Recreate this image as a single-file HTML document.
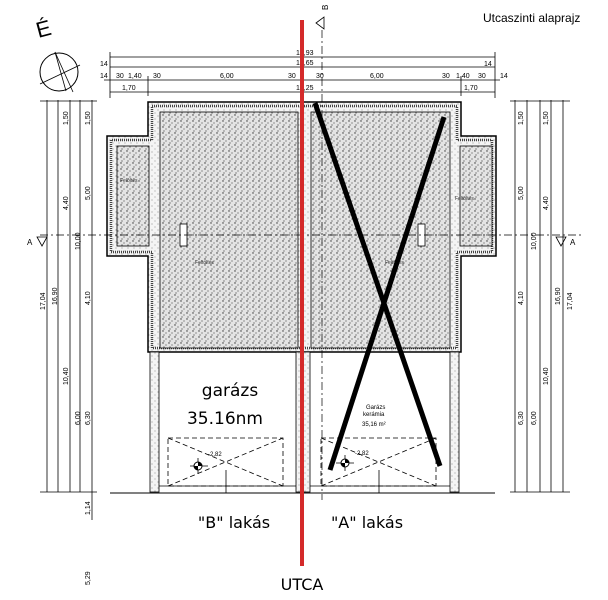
<!DOCTYPE html>
<html><head><meta charset="utf-8"><style>
html,body{margin:0;padding:0;background:#fff}
svg{display:block}
</style></head><body>
<svg width="608" height="600" viewBox="0 0 608 600" xmlns="http://www.w3.org/2000/svg" font-family="Liberation Sans, sans-serif">
<defs>
<pattern id="dots" width="6" height="6" patternUnits="userSpaceOnUse">
<rect width="6" height="6" fill="#e4e4e4"/>
<circle cx="1" cy="1" r="0.7" fill="#333"/><circle cx="4" cy="3" r="0.6" fill="#555"/><circle cx="2" cy="5" r="0.6" fill="#444"/>
</pattern>
<pattern id="dots2" width="6" height="6" patternUnits="userSpaceOnUse">
<rect width="6" height="6" fill="#f4f4f4"/>
<circle cx="2" cy="2" r="0.5" fill="#666"/><circle cx="5" cy="5" r="0.5" fill="#777"/>
</pattern>
</defs>
<rect width="608" height="600" fill="#fff"/>

<text x="483" y="22" font-size="12" fill="#000">Utcaszinti alaprajz</text>
<text x="36" y="36" font-size="22" fill="#000" transform="rotate(-15 45 28)">É</text>
<circle cx="59" cy="72" r="19" fill="none" stroke="#000" stroke-width="1"/>
<line x1="55" y1="52" x2="73" y2="92" stroke="#000" stroke-width="0.8"/>
<line x1="55" y1="52" x2="66" y2="91" stroke="#000" stroke-width="0.8"/>
<line x1="40" y1="84" x2="80" y2="65" stroke="#000" stroke-width="0.8"/>

<text x="322" y="8" font-size="8" transform="rotate(-90 326 6)">B</text>
<polygon points="316,23 324,17 324,29" fill="none" stroke="#000" stroke-width="0.8"/>

<g stroke="#000" stroke-width="0.8">
<line x1="110" y1="57" x2="495" y2="57"/>
<line x1="110" y1="67" x2="495" y2="67"/>
<line x1="104" y1="80" x2="500" y2="80"/>
<line x1="110" y1="92" x2="495" y2="92"/>
<line x1="110" y1="52" x2="110" y2="98"/><line x1="495" y1="52" x2="495" y2="98"/>
<line x1="148" y1="76" x2="148" y2="96"/><line x1="461" y1="76" x2="461" y2="96"/>
</g>
<g font-size="7" fill="#000">
<text x="296" y="55">18,93</text><text x="296" y="65">18,65</text>
<text x="100" y="66">14</text><text x="484" y="66">14</text>
<text x="100" y="78">14</text><text x="116" y="78">30</text><text x="128" y="78">1,40</text><text x="153" y="78">30</text>
<text x="220" y="78">6,00</text><text x="288" y="78">30</text><text x="316" y="78">30</text><text x="370" y="78">6,00</text>
<text x="442" y="78">30</text><text x="456" y="78">1,40</text><text x="478" y="78">30</text><text x="500" y="78">14</text>
<text x="122" y="90">1,70</text><text x="296" y="90">13,25</text><text x="464" y="90">1,70</text>
</g>

<g stroke="#000" stroke-width="0.8">
<line x1="47" y1="100" x2="47" y2="492"/><line x1="58" y1="100" x2="58" y2="492"/>
<line x1="70" y1="100" x2="70" y2="492"/><line x1="80" y1="100" x2="80" y2="492"/>
<line x1="92" y1="100" x2="92" y2="520"/>
<line x1="40" y1="101" x2="97" y2="101"/><line x1="40" y1="492" x2="97" y2="492"/>
<line x1="515" y1="100" x2="515" y2="492"/><line x1="527" y1="100" x2="527" y2="492"/>
<line x1="540" y1="100" x2="540" y2="492"/><line x1="551" y1="100" x2="551" y2="492"/>
<line x1="563" y1="100" x2="563" y2="492"/>
<line x1="510" y1="101" x2="570" y2="101"/><line x1="510" y1="492" x2="570" y2="492"/>
</g>
<g font-size="7" fill="#000">
<text transform="translate(45,310) rotate(-90)">17,04</text>
<text transform="translate(57,305) rotate(-90)">16,90</text>
<text transform="translate(68,125) rotate(-90)">1,50</text>
<text transform="translate(68,210) rotate(-90)">4,40</text>
<text transform="translate(80,250) rotate(-90)">10,00</text>
<text transform="translate(90,125) rotate(-90)">1,50</text>
<text transform="translate(90,200) rotate(-90)">5,00</text>
<text transform="translate(90,305) rotate(-90)">4,10</text>
<text transform="translate(68,385) rotate(-90)">10,40</text>
<text transform="translate(80,425) rotate(-90)">6,00</text>
<text transform="translate(90,425) rotate(-90)">6,30</text>
<text transform="translate(90,515) rotate(-90)">1,14</text>
<text transform="translate(90,585) rotate(-90)">5,29</text>
<text transform="translate(572,310) rotate(-90)">17,04</text>
<text transform="translate(560,305) rotate(-90)">16,90</text>
<text transform="translate(523,125) rotate(-90)">1,50</text>
<text transform="translate(523,200) rotate(-90)">5,00</text>
<text transform="translate(523,305) rotate(-90)">4,10</text>
<text transform="translate(523,425) rotate(-90)">6,30</text>
<text transform="translate(536,250) rotate(-90)">10,00</text>
<text transform="translate(548,125) rotate(-90)">1,50</text>
<text transform="translate(548,210) rotate(-90)">4,40</text>
<text transform="translate(548,385) rotate(-90)">10,40</text>
<text transform="translate(536,425) rotate(-90)">6,00</text>
</g>

<path d="M148,102 H461 V136 H496 V256 H461 V352 H148 V256 H107 V136 H148 Z" fill="url(#dots2)" stroke="#000" stroke-width="1.5"/>
<path d="M152,106 H457 V140 H492 V252 H457 V348 H152 V252 H111 V140 H152 Z" fill="none" stroke="#444" stroke-width="2.5" stroke-dasharray="1 1"/>
<rect x="160" y="112" width="138" height="236" fill="url(#dots)" stroke="#000" stroke-width="0.8"/>
<rect x="311" y="112" width="139" height="236" fill="url(#dots)" stroke="#000" stroke-width="0.8"/>
<rect x="117" y="146" width="32" height="100" fill="url(#dots)" stroke="#000" stroke-width="0.8"/>
<rect x="460" y="146" width="32" height="100" fill="url(#dots)" stroke="#000" stroke-width="0.8"/>
<rect x="180" y="224" width="7" height="22" fill="#fff" stroke="#000" stroke-width="0.8"/>
<rect x="418" y="224" width="7" height="22" fill="#fff" stroke="#000" stroke-width="0.8"/>
<g font-size="5" fill="#333"><text x="120" y="182">Felöltés</text><text x="195" y="264">Feltöltés</text><text x="385" y="264">Feltöltés</text><text x="455" y="200">Feltöltés</text></g>

<rect x="150" y="352" width="9" height="140" fill="url(#dots2)" stroke="#000" stroke-width="0.8"/>
<rect x="296" y="352" width="14" height="140" fill="url(#dots2)" stroke="#000" stroke-width="0.8"/>
<rect x="450" y="352" width="9" height="140" fill="url(#dots2)" stroke="#000" stroke-width="0.8"/>
<line x1="159" y1="486" x2="296" y2="486" stroke="#000" stroke-width="0.8"/>
<line x1="310" y1="486" x2="450" y2="486" stroke="#000" stroke-width="0.8"/>
<line x1="110" y1="493" x2="495" y2="493" stroke="#000" stroke-width="1"/>

<g stroke="#000" stroke-width="0.8" fill="none" stroke-dasharray="5 3">
<rect x="168" y="438" width="115" height="48"/>
<line x1="168" y1="438" x2="283" y2="486"/><line x1="168" y1="486" x2="283" y2="438"/>
<rect x="321" y="438" width="115" height="48"/>
<line x1="321" y1="438" x2="436" y2="486"/><line x1="321" y1="486" x2="436" y2="438"/>
</g>
<g stroke="#000" stroke-width="0.8">
<line x1="226" y1="470" x2="226" y2="493"/><line x1="379" y1="470" x2="379" y2="493"/>
<line x1="190" y1="466" x2="208" y2="466"/><line x1="198" y1="458" x2="198" y2="474"/>
<line x1="336" y1="463" x2="354" y2="463"/><line x1="345" y1="455" x2="345" y2="471"/>
</g>
<circle cx="198" cy="466" r="4" fill="#fff" stroke="#000"/><path d="M198,466 V462 A4,4 0 0 1 202,466 Z M198,466 V470 A4,4 0 0 1 194,466 Z" fill="#000"/>
<circle cx="345" cy="463" r="4" fill="#fff" stroke="#000"/><path d="M345,463 V459 A4,4 0 0 1 349,463 Z M345,463 V467 A4,4 0 0 1 341,463 Z" fill="#000"/>
<g font-size="6" fill="#000"><text x="208" y="456">-2,82</text><text x="355" y="455">-2,82</text>
<text x="366" y="409">Garázs</text><text x="363" y="416">kerámia</text><text x="362" y="426">35,16 m²</text></g>

<line x1="40" y1="235" x2="582" y2="235" stroke="#000" stroke-width="0.7" stroke-dasharray="8 3 2 3"/>
<line x1="322" y1="30" x2="322" y2="500" stroke="#000" stroke-width="0.7" stroke-dasharray="8 3 2 3"/>
<text x="27" y="245" font-size="8">A</text><polygon points="37,237 47,237 42,246" fill="none" stroke="#000" stroke-width="0.8"/>
<text x="570" y="245" font-size="8">A</text><polygon points="556,237 566,237 561,246" fill="none" stroke="#000" stroke-width="0.8"/>

<text x="230" y="396" font-size="17" text-anchor="middle" font-family="DejaVu Sans, sans-serif">garázs</text>
<text x="225" y="424" font-size="17" text-anchor="middle" font-family="DejaVu Sans, sans-serif">35.16nm</text>
<text x="234" y="528" font-size="16" text-anchor="middle" font-family="DejaVu Sans, sans-serif">"B" lakás</text>
<text x="367" y="528" font-size="16" text-anchor="middle" font-family="DejaVu Sans, sans-serif">"A" lakás</text>
<text x="302" y="590" font-size="16" text-anchor="middle" font-family="DejaVu Sans, sans-serif">UTCA</text>

<line x1="302" y1="20" x2="302" y2="566" stroke="#d42a2a" stroke-width="4"/>
<line x1="315" y1="103" x2="440" y2="466" stroke="#000" stroke-width="5"/>
<line x1="444" y1="117" x2="330" y2="470" stroke="#000" stroke-width="5"/>
</svg>
</body></html>
